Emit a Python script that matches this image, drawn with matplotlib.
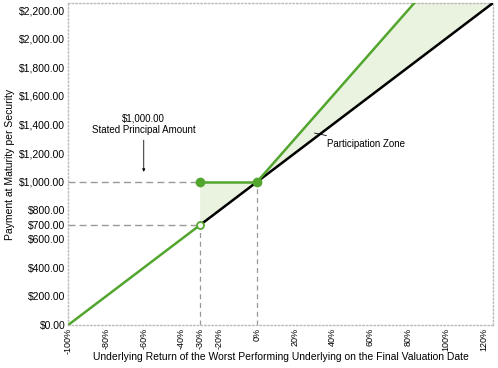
import numpy as np
import matplotlib
matplotlib.use("Agg")
import matplotlib.pyplot as plt
from matplotlib.ticker import FuncFormatter

plt.rcParams['font.family'] = ['Liberation Sans', 'DejaVu Sans']

# underlying return (%) and payment per security ($)
ret_down = [-100, -30]
pay_down = [0, 700]
ret_flat = [-30, 0]
pay_flat = [1000, 1000]
ret_up = [0, 83.33]
pay_up = [1000, 2250]
ret_under = [-30, 125]
pay_under = [700, 2250]

x_ticks = [-100, -80, -60, -40, -30, -20, 0, 20, 40, 60, 80, 100, 120]
y_ticks = [0, 200, 400, 600, 700, 800, 1000, 1200, 1400, 1600, 1800, 2000, 2200]

green = '#52a62e'
fill_c = '#eaf3e0'
grey = '#999999'

fig = plt.figure(figsize=(4.98, 3.68), dpi=100)
ax = fig.add_axes([0.137, 0.117, 0.853, 0.875])

# shaded zones
xs = np.array([-30, 0])
ax.fill_between(xs, [1000, 1000], [700, 1000], color=fill_c, zorder=1)
xs = np.linspace(0, 125, 50)
ax.fill_between(xs, np.minimum(1000 + 15 * xs, 2250), 1000 + 10 * xs, color=fill_c, zorder=1)

# reference dashes
ax.plot([-100, -30], [1000, 1000], ls=(0, (5, 3)), color=grey, lw=1, zorder=2)
ax.plot([-100, -30], [700, 700], ls=(0, (5, 3)), color=grey, lw=1, zorder=2)
ax.plot([-30, -30], [0, 700], ls=(0, (4, 3)), color=grey, lw=0.9, zorder=2)
ax.plot([0, 0], [0, 1000], ls=(0, (4, 3)), color=grey, lw=0.9, zorder=2)

ax.plot(ret_under, pay_under, color='black', lw=1.8, zorder=3)
ax.plot(ret_down, pay_down, color=green, lw=1.8, zorder=4)
ax.plot(ret_flat, pay_flat, color=green, lw=1.8, zorder=4)
ax.plot(ret_up, pay_up, color=green, lw=1.8, zorder=4)

ax.plot([-30, 0], [1000, 1000], 'o', color=green, ms=6, zorder=5)
ax.plot([-30], [700], 'o', mfc='white', mec=green, mew=1.3, ms=5, zorder=5)

ax.annotate('$1,000.00\nStated Principal Amount', xy=(-60, 1050), xytext=(-60, 1330),
            ha='center', va='bottom', fontsize=7,
            arrowprops=dict(arrowstyle='-|>', color='black', lw=0.6, mutation_scale=4))
ax.annotate('Participation Zone', xy=(29, 1345), xytext=(37, 1265),
            ha='left', va='center', fontsize=7,
            arrowprops=dict(arrowstyle='-', color='black', lw=0.6))

ax.set_xlim(-100, 125)
ax.set_ylim(0, 2250)
ax.set_xticks(x_ticks)
ax.set_xticklabels([f'{t}%' for t in x_ticks], rotation=90, fontsize=6.5, va='top')
ax.set_yticks(y_ticks)
ax.yaxis.set_major_formatter(FuncFormatter(lambda v, p: f'${v:,.2f}'))
ax.tick_params(axis='y', labelsize=7.5, length=0, pad=2)
ax.tick_params(axis='x', length=0, pad=2)
for s in ax.spines.values():
    s.set_color('#bbbbbb')
    s.set_linestyle(':')
    s.set_linewidth(1)

ax.set_xlabel('Underlying Return of the Worst Performing Underlying on the Final Valuation Date',
              fontsize=7.5, va='center')
ax.xaxis.set_label_coords(0.5, -0.1)
ax.set_ylabel('Payment at Maturity per Security', fontsize=7.5, labelpad=3)

fig.savefig('out.png', dpi=100)
